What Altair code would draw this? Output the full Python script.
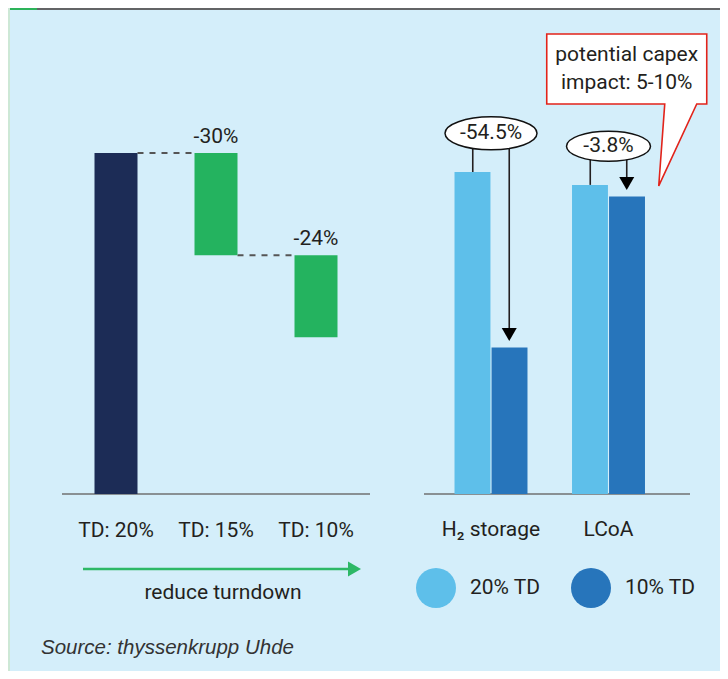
import altair as alt
import pandas as pd
import json

# ---------------- data ----------------
LEFT_CATS = ["TD: 20%", "TD: 15%", "TD: 10%"]
LEFT_START = [0, 70, 46]
LEFT_END = [100, 100, 70]
LEFT_LABELS = ["", "-30%", "-24%"]

RIGHT_GROUPS = ["H₂ storage", "LCoA"]
SERIES = ["20% TD", "10% TD"]
VALUES_20 = [100, 96]
VALUES_10 = [45.5, 92.4]
CHANGE_LABELS = ["-54.5%", "-3.8%"]

CALLOUT_TEXT = "potential capex\nimpact: 5-10%"
ARROW_TEXT = "reduce turndown"
SOURCE_TEXT = "Source: thyssenkrupp Uhde"

# ---------------- styles ----------------
FONT = "Roboto"
INK = "#231F20"
BG = "#D4EEFA"
NAVY = "#1C2C56"
GREEN = "#24B35F"
LIGHT = "#5EBFEA"
DARK = "#2775BB"
RED = "#E2231A"

ELL_PATHS = [
    "M-46,0A46,16.5,0,1,1,46,0A46,16.5,0,1,1,-46,0Z",
    "M-42,0A42,15,0,1,1,42,0A42,15,0,1,1,-42,0Z",
]
CALLOUT_PATH = "M-80,-35L80,-35L80,35L70,35L32,117L38,35L-80,35Z"

# ---------------- tables ----------------
left_df = pd.DataFrame({"cat": LEFT_CATS, "start": LEFT_START,
                        "end": LEFT_END, "label": LEFT_LABELS})
conn_df = pd.DataFrame({"from": LEFT_CATS[:-1], "to": LEFT_CATS[1:],
                        "level": LEFT_END[1:]})
right_df = pd.DataFrame({
    "group": RIGHT_GROUPS * 2,
    "series": [SERIES[0]] * 2 + [SERIES[1]] * 2,
    "value": VALUES_20 + VALUES_10,
})
ann_df = pd.DataFrame({"group": RIGHT_GROUPS, "v20": VALUES_20,
                       "v10": VALUES_10, "label": CHANGE_LABELS})
callout_df = pd.DataFrame({"group": [RIGHT_GROUPS[1]], "v20": [VALUES_20[1]],
                           "text": [CALLOUT_TEXT]})
one = pd.DataFrame({"d": [0]})

S10 = json.dumps(SERIES[1])

# ---------------- scales ----------------
lx = alt.Scale(domain=LEFT_CATS, range=[58, 358], paddingInner=0.57, paddingOuter=0.285)
ly = alt.Scale(domain=[0, 100], range=[486, 145], nice=False, zero=False)
rx = alt.Scale(domain=RIGHT_GROUPS, range=[424.25, 659.25], paddingInner=0.379, paddingOuter=0.1895)
rxo = alt.Scale(domain=SERIES, paddingInner=0.03)
ry = alt.Scale(domain=[0, 100], range=[486, 164], nice=False)

# ---------------- left panel ----------------
bars_left = alt.Chart(left_df).mark_bar().encode(
    x=alt.X("cat:N", scale=lx, axis=None),
    y=alt.Y("start:Q", scale=ly, axis=None),
    y2="end:Q",
    color=alt.condition(alt.datum.cat == LEFT_CATS[0], alt.value(NAVY), alt.value(GREEN)),
)
connectors = alt.Chart(conn_df).mark_rule(color="#555555", strokeWidth=2, strokeDash=[6, 6]).encode(
    x=alt.X("from:N", scale=lx, axis=None, bandPosition=1),
    x2=alt.X2("to:N", bandPosition=0),
    y=alt.Y("level:Q", scale=ly, axis=None),
)
left_labels = alt.Chart(left_df).transform_filter("datum.label != ''").mark_text(
    font=FONT, fontSize=21, color=INK, baseline="alphabetic", dy=-10
).encode(
    x=alt.X("cat:N", scale=lx, axis=None),
    y=alt.Y("end:Q", scale=ly, axis=None),
    text="label:N",
)
left_ticks = alt.Chart(left_df).mark_text(
    font=FONT, fontSize=21, color=INK, baseline="middle"
).encode(
    x=alt.X("cat:N", scale=lx, axis=None),
    y=alt.value(523),
    text="cat:N",
)
left_base = alt.Chart(one).mark_rule(color="#707070", strokeWidth=1.5).encode(
    x=alt.value(54), x2=alt.value(362), y=alt.value(486))

arrow_line = alt.Chart(one).mark_rule(color="#2DB866", strokeWidth=2.5).encode(
    x=alt.value(75), x2=alt.value(347), y=alt.value(561))
arrow_head = alt.Chart(one).mark_point(shape="triangle-right", size=225, filled=True,
                                       color="#2DB866", opacity=1).encode(
    x=alt.value(346.5), y=alt.value(561))
arrow_text = alt.Chart(one).mark_text(font=FONT, fontSize=21, color=INK, baseline="middle",
                                      text=ARROW_TEXT).encode(
    x=alt.value(215), y=alt.value(585))

# ---------------- right panel ----------------
bars_right = alt.Chart(right_df).mark_bar().encode(
    x=alt.X("group:N", scale=rx, axis=None),
    xOffset=alt.XOffset("series:N", scale=rxo),
    y=alt.Y("value:Q", scale=ry, axis=None),
    color=alt.Color("series:N", scale=alt.Scale(domain=SERIES, range=[LIGHT, DARK]),
                    legend=alt.Legend(orient="none", legendX=408, legendY=560,
                                      direction="horizontal", title=None,
                                      symbolType="circle", symbolSize=1600,
                                      symbolStrokeWidth=0, symbolOpacity=1,
                                      labelFont=FONT, labelFontSize=21, labelColor=INK,
                                      labelOffset=14, columnPadding=30, padding=0)),
)
right_base = alt.Chart(one).mark_rule(color="#707070", strokeWidth=1.5).encode(
    x=alt.value(416), x2=alt.value(682), y=alt.value(486))
right_ticks = alt.Chart(ann_df).mark_text(
    font=FONT, fontSize=21, color=INK, baseline="middle"
).encode(
    x=alt.X("group:N", scale=rx, axis=None),
    y=alt.value(522),
    text="group:N",
)

ann = alt.Chart(ann_df).transform_calculate(ey="datum.v20 + 12", ay="datum.v10 + 4", s10=S10)
rule20 = ann.mark_rule(color=INK, strokeWidth=1.6).encode(
    x=alt.X("group:N", scale=rx, axis=None, bandPosition=0.25),
    y=alt.Y("v20:Q", scale=ry, axis=None), y2="ey:Q")
rule10 = ann.mark_rule(color=INK, strokeWidth=1.6).encode(
    x=alt.X("group:N", scale=rx, axis=None, bandPosition=0.75),
    y=alt.Y("ay:Q", scale=ry, axis=None), y2="ey:Q")
arrow_down = ann.mark_point(shape="triangle-down", size=225, filled=True,
                            color="#000000", opacity=1).encode(
    x=alt.X("group:N", scale=rx, axis=None),
    xOffset=alt.XOffset("s10:N", scale=rxo),
    y=alt.Y("ay:Q", scale=ry, axis=None))
ellipses = ann.mark_point(size=4, filled=True, fill="white", stroke="#111111",
                          strokeWidth=1.5, opacity=1).encode(
    x=alt.X("group:N", scale=rx, axis=None),
    y=alt.Y("ey:Q", scale=ry, axis=None),
    shape=alt.Shape("label:N", scale=alt.Scale(domain=CHANGE_LABELS, range=ELL_PATHS), legend=None),
)
ell_text = ann.mark_text(font=FONT, fontSize=21, color=INK, baseline="middle").encode(
    x=alt.X("group:N", scale=rx, axis=None),
    y=alt.Y("ey:Q", scale=ry, axis=None),
    text="label:N",
)

call = alt.Chart(callout_df).transform_calculate(cy="datum.v20 + 36", s10=S10)
callout_box = call.mark_point(shape=CALLOUT_PATH, size=4, filled=True, fill="white",
                              stroke=RED, strokeWidth=1.6, opacity=1).encode(
    x=alt.X("group:N", scale=rx, axis=None),
    xOffset=alt.XOffset("s10:N", scale=rxo),
    y=alt.Y("cy:Q", scale=ry, axis=None))
callout_text = call.mark_text(font=FONT, fontSize=21, color=INK, baseline="middle",
                              lineBreak="\n", lineHeight=28, dy=-14).encode(
    x=alt.X("group:N", scale=rx, axis=None),
    xOffset=alt.XOffset("s10:N", scale=rxo),
    y=alt.Y("cy:Q", scale=ry, axis=None),
    text="text:N")

# ---------------- frame decorations ----------------
top_bar = alt.Chart(one).mark_rect(color="#636466").encode(
    x=alt.value(0), x2=alt.value(712), y=alt.value(0), y2=alt.value(2))
top_green = alt.Chart(one).mark_rect(color="#2DB35A").encode(
    x=alt.value(2), x2=alt.value(29), y=alt.value(0), y2=alt.value(2))
left_strip = alt.Chart(one).mark_rect(color="#CDE8D6").encode(
    x=alt.value(0), x2=alt.value(2), y=alt.value(0), y2=alt.value(663))
source = alt.Chart(one).mark_text(font="Liberation Sans", fontSize=20.5, fontStyle="italic",
                                  color="#333333", align="left", baseline="middle",
                                  text=SOURCE_TEXT).encode(
    x=alt.value(33), y=alt.value(640))

chart = alt.layer(
    top_bar, top_green, left_strip,
    left_base, connectors, bars_left, left_labels, left_ticks,
    arrow_line, arrow_head, arrow_text,
    right_base, bars_right, right_ticks,
    rule20, rule10, arrow_down, ellipses, ell_text,
    callout_box, callout_text, source,
).resolve_scale(
    x="independent", y="independent", xOffset="independent"
).properties(
    width=712, height=663, padding=0, background=BG,
    autosize=alt.AutoSizeParams(type="none"),
).configure_view(stroke=None)

chart.save("out.html", embed_options={"renderer": "svg", "actions": False})
